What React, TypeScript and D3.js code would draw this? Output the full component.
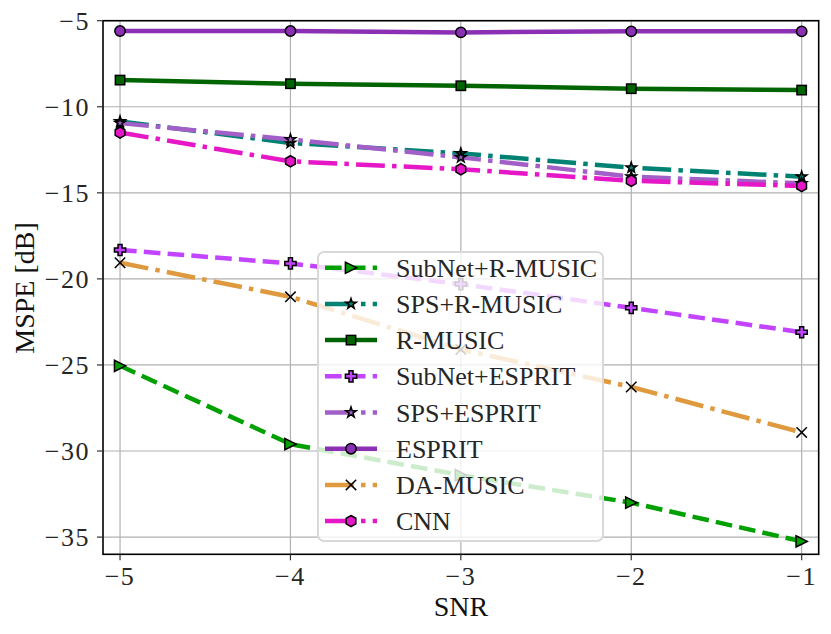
import React from "react";
import * as d3 from "d3";

const snr = [-5, -4, -3, -2, -1];
const subnetRMusic = [-25.05, -29.6, -31.4, -33.0, -35.25];
const spsRMusic = [-10.85, -12.1, -12.71, -13.54, -14.06];
const rMusic = [-8.45, -8.66, -8.78, -8.95, -9.03];
const subnetEsprit = [-18.32, -19.1, -20.3, -21.68, -23.1];
const spsEsprit = [-10.95, -11.9, -12.94, -14.06, -14.45];
const esprit = [-5.6, -5.6, -5.68, -5.62, -5.62];
const daMusic = [-19.06, -21.04, -24.1, -26.28, -28.92];
const cnn = [-11.5, -13.17, -13.63, -14.3, -14.6];

const xTicks = [-5, -4, -3, -2, -1];
const yTicks = [-35, -30, -25, -20, -15, -10, -5];

type Series = {
  name: string;
  values: number[];
  color: string;
  dash: string;
  marker: string;
};

const LW = 4.5;
const DASHED = `${3.7 * LW} ${1.6 * LW}`;
const DASHDOT = `${6.4 * LW} ${1.6 * LW} ${1 * LW} ${1.6 * LW}`;

const series: Series[] = [
  { name: "SubNet+R-MUSIC", values: subnetRMusic, color: "#00a000", dash: DASHED, marker: "tri" },
  { name: "SPS+R-MUSIC", values: spsRMusic, color: "#008272", dash: DASHDOT, marker: "star" },
  { name: "R-MUSIC", values: rMusic, color: "#006400", dash: "none", marker: "square" },
  { name: "SubNet+ESPRIT", values: subnetEsprit, color: "#c344ff", dash: DASHED, marker: "plus" },
  { name: "SPS+ESPRIT", values: spsEsprit, color: "#a35fc8", dash: DASHDOT, marker: "star" },
  { name: "ESPRIT", values: esprit, color: "#8b2fb5", dash: "none", marker: "circle" },
  { name: "DA-MUSIC", values: daMusic, color: "#df9a3f", dash: DASHDOT, marker: "x" },
  { name: "CNN", values: cnn, color: "#e517c7", dash: DASHDOT, marker: "hex" },
];

const W = 831;
const H = 634;
const left = 103;
const right = 818.7;
const top = 20.7;
const bottom = 554.3;

const FONT = "'Liberation Serif', 'DejaVu Serif', serif";

function Marker({ type, x, y, color }: { type: string; x: number; y: number; color: string }) {
  const s = 5.2;
  const common = { fill: color, stroke: "#000", strokeWidth: 1.5, strokeLinejoin: "miter" as const };
  if (type === "circle") return <circle cx={x} cy={y} r={s} {...common} />;
  if (type === "square")
    return <rect x={x - s * 0.9} y={y - s * 0.9} width={s * 1.8} height={s * 1.8} {...common} />;
  if (type === "tri") {
    const r = 5.6;
    const pts = [
      [x + r, y],
      [x - r, y - r],
      [x - r, y + r],
    ];
    return <polygon points={pts.map((p) => p.join(",")).join(" ")} {...common} />;
  }
  if (type === "star") {
    const path = d3.symbol(d3.symbolStar, 34)();
    return <path d={path || ""} transform={`translate(${x},${y})`} {...common} />;
  }
  if (type === "plus") {
    const a = 5.6;
    const b = 2.0;
    const pts = [
      [-b, -a], [b, -a], [b, -b], [a, -b], [a, b], [b, b], [b, a], [-b, a], [-b, b], [-a, b], [-a, -b], [-b, -b],
    ];
    return (
      <polygon
        points={pts.map((p) => `${x + p[0]},${y + p[1]}`).join(" ")}
        {...common}
      />
    );
  }
  if (type === "hex") {
    const r = 5.6;
    const pts = d3.range(6).map((i) => {
      const ang = (Math.PI / 3) * i - Math.PI / 2;
      return `${x + r * Math.cos(ang)},${y + r * Math.sin(ang)}`;
    });
    return <polygon points={pts.join(" ")} {...common} />;
  }
  if (type === "x") {
    const r = 5.2;
    return (
      <g stroke="#000" strokeWidth={1.5}>
        <line x1={x - r} y1={y - r} x2={x + r} y2={y + r} />
        <line x1={x - r} y1={y + r} x2={x + r} y2={y - r} />
      </g>
    );
  }
  return null;
}

export default function App() {
  const xScale = d3.scaleLinear().domain([-5.1, -0.9]).range([left, right]);
  const yScale = d3.scaleLinear().domain([-36, -5]).range([bottom, top]);

  const lineGen = d3
    .line<number>()
    .x((_, i) => xScale(snr[i]))
    .y((d) => yScale(d));

  const fmt = (v: number) => (v < 0 ? "\u2212" + Math.abs(v) : String(v));

  const legX = 318;
  const legY = 252;
  const legW = 285;
  const legH = 289;
  const rowY0 = 267.7;
  const rowDy = 36.2;

  return (
    <svg
      width={W}
      height={H}
      viewBox={`0 0 ${W} ${H}`}
      style={{ position: "absolute", left: 0, top: 0, background: "#fff" }}
      fontFamily={FONT}
    >
      <defs>
        <clipPath id="plotClip">
          <rect x={left} y={top} width={right - left} height={bottom - top} />
        </clipPath>
      </defs>
      <rect x={0} y={0} width={W} height={H} fill="#fff" />
      {/* grid */}
      <g stroke="#b0b0b0" strokeWidth={1.2}>
        {xTicks.map((t) => (
          <line key={"gx" + t} x1={xScale(t)} x2={xScale(t)} y1={top} y2={bottom} />
        ))}
        {yTicks.map((t) => (
          <line key={"gy" + t} x1={left} x2={right} y1={yScale(t)} y2={yScale(t)} />
        ))}
      </g>
      {/* series */}
      <g clipPath="url(#plotClip)">
        {series.map((s) => (
          <g key={s.name}>
            <path
              d={lineGen(s.values) || ""}
              fill="none"
              stroke={s.color}
              strokeWidth={LW}
              strokeDasharray={s.dash}
              strokeLinejoin="round"
            />
            {s.values.map((v, i) => (
              <Marker key={i} type={s.marker} x={xScale(snr[i])} y={yScale(v)} color={s.color} />
            ))}
          </g>
        ))}
      </g>
      {/* spines */}
      <rect x={left} y={top} width={right - left} height={bottom - top} fill="none" stroke="#000" strokeWidth={1.6} />
      {/* ticks */}
      <g stroke="#333" strokeWidth={1.2}>
        {xTicks.map((t) => (
          <line key={"tx" + t} x1={xScale(t)} x2={xScale(t)} y1={bottom} y2={bottom + 6} />
        ))}
        {yTicks.map((t) => (
          <line key={"ty" + t} x1={left - 6} x2={left} y1={yScale(t)} y2={yScale(t)} />
        ))}
      </g>
      <g fill="#262626" fontSize={26}>
        {xTicks.map((t) => (
          <text key={"lx" + t} x={xScale(t)} y={585} textAnchor="middle" letterSpacing={1.5}>
            {fmt(t)}
          </text>
        ))}
        {yTicks.map((t) => (
          <text key={"ly" + t} x={90} y={yScale(t) + 9} textAnchor="end" letterSpacing={1.5}>
            {fmt(t)}
          </text>
        ))}
      </g>
      <text x={461} y={616} textAnchor="middle" fontSize={28} fill="#111">
        SNR
      </text>
      <text
        transform={`translate(34,288) rotate(-90)`}
        textAnchor="middle"
        fontSize={28}
        fill="#111"
      >
        MSPE [dB]
      </text>
      {/* legend */}
      <g>
        <rect
          x={legX}
          y={legY}
          width={legW}
          height={legH}
          rx={6}
          ry={6}
          fill="#fff"
          fillOpacity={0.8}
          stroke="#d9d9d9"
          strokeWidth={2}
        />
        {series.map((s, i) => {
          const cy = rowY0 + i * rowDy;
          return (
            <g key={"leg" + s.name}>
              <line
                x1={325}
                x2={377}
                y1={cy}
                y2={cy}
                stroke={s.color}
                strokeWidth={LW}
                strokeDasharray={s.dash}
              />
              <Marker type={s.marker} x={351} y={cy} color={s.color} />
              <text x={396} y={cy + 9} fontSize={26} fill="#262626">
                {s.name}
              </text>
            </g>
          );
        })}
      </g>
    </svg>
  );
}
